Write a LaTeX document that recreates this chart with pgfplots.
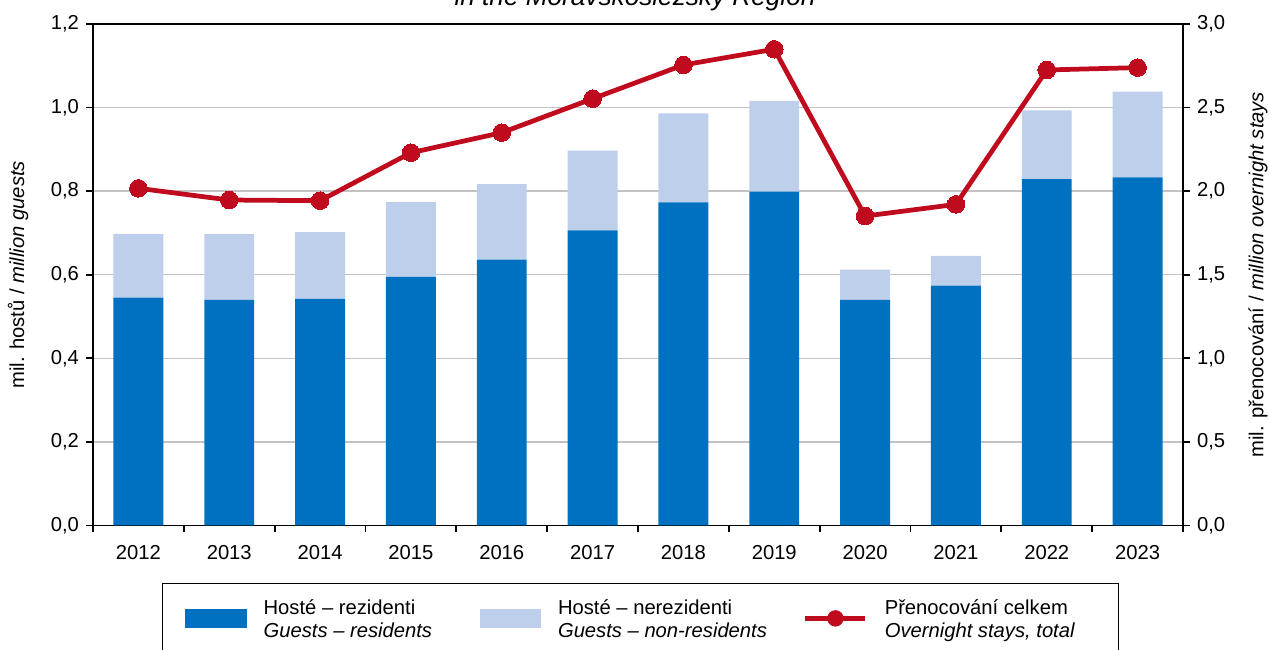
\documentclass[border=0pt]{standalone}
\usepackage{pgfplots}
\usepackage{pgfplotstable}
\pgfplotsset{compat=1.18}
\usepackage{fontspec}
\setmainfont{Liberation Sans}
\definecolor{resblue}{RGB}{0,112,192}
\definecolor{nonres}{RGB}{189,207,235}
\definecolor{linered}{RGB}{192,10,30}
\definecolor{gridgray}{RGB}{195,195,195}

\pgfplotstableread{
x year res nonres stays
0 2012 0.545 0.153 2.017
1 2013 0.540 0.157 1.947
2 2014 0.542 0.160 1.943
3 2015 0.595 0.179 2.230
4 2016 0.636 0.181 2.350
5 2017 0.706 0.191 2.553
6 2018 0.773 0.213 2.755
7 2019 0.799 0.217 2.849
8 2020 0.540 0.072 1.851
9 2021 0.574 0.071 1.921
10 2022 0.829 0.164 2.725
11 2023 0.833 0.205 2.739
}\data

\begin{document}
\fontsize{11.5pt}{13.1pt}\selectfont
\begin{tikzpicture}
\pgfplotsset{
  every axis/.append style={
    scale only axis,
    width=21.8cm, height=10.03cm,
    xmin=-0.5, xmax=11.5,
    tick align=outside,
    major tick length=0.14cm,
    minor tick length=0.14cm,
    axis line style={line width=1pt, black},
    every tick/.style={black, line width=1pt},
    /pgf/number format/assume math mode=true,
  }
}
\begin{axis}[
  ymin=0, ymax=1.2,
  ytick={0,0.2,...,1.2},
  tick pos=left,
  xtick={0,...,11},
  xticklabels={2012,2013,2014,2015,2016,2017,2018,2019,2020,2021,2022,2023},
  x tick style={draw=none},
  minor xtick={-0.5,0.5,...,11.5},
  minor x tick style={draw=black, line width=1pt},
  xticklabel style={yshift=-0.12cm},
  ymajorgrids,
  grid style={gridgray, line width=0.75pt},
  yticklabel style={/pgf/number format/.cd, fixed, fixed zerofill, precision=1, use comma},
  every axis y label/.style={at={(axis description cs:0,0.5)}, xshift=-1.5cm, rotate=90, anchor=center},
  ylabel={mil. hostů / \textit{million guests}},
  ybar stacked,
  bar width=0.55,
]
\addplot[fill=resblue, draw=none] table[x=x, y=res] {\data};
\addplot[fill=nonres, draw=none] table[x=x, y=nonres] {\data};
\end{axis}
\begin{axis}[
  ymin=0, ymax=3,
  ytick={0,0.5,...,3},
  axis y line*=right,
  axis x line=none,
  ytick pos=right,
  yticklabel style={/pgf/number format/.cd, fixed, fixed zerofill, precision=1, use comma},
  every axis y label/.style={at={(axis description cs:1,0.5)}, xshift=1.5cm, rotate=90, anchor=center},
  ylabel={mil. přenocování / \textit{million overnight stays}},
  legend columns=3,
  legend cell align=left,
  legend style={at={(axis description cs:0.5,-0.1147)}, anchor=north, xshift=0.05cm,
    draw=black, line width=0.8pt, inner xsep=0.46cm, inner ysep=0.3cm,
    nodes={inner sep=0pt},
    /tikz/every odd column/.append style={column sep=0.34cm}},
]
\addlegendimage{legend image code/.code={\fill[resblue] (0cm,-0.25cm) rectangle (1.2cm,0.09cm);}}
\addlegendentry{\makebox[4.32cm][l]{\begin{tabular}{@{}l@{}}Hosté – rezidenti\\\textit{Guests – residents}\end{tabular}}}
\addlegendimage{legend image code/.code={\fill[nonres] (0cm,-0.25cm) rectangle (1.2cm,0.09cm);}}
\addlegendentry{\makebox[4.90cm][l]{\begin{tabular}{@{}l@{}}Hosté – nerezidenti\\\textit{Guests – non-residents}\end{tabular}}}
\addlegendimage{legend image code/.code={\draw[linered, line width=2.7pt] (0cm,-0.08cm) -- (1.2cm,-0.08cm); \fill[linered] (0.6cm,-0.08cm) circle (0.15cm);}}
\addlegendentry{\makebox[4.22cm][l]{\begin{tabular}{@{}l@{}}Přenocování celkem\\\textit{Overnight stays, total}\end{tabular}}}
\addlegendimage{empty legend}\addlegendentry{\rule{0pt}{0.35cm}}
\addlegendimage{empty legend}\addlegendentry{\rule{0pt}{0.35cm}}
\addlegendimage{empty legend}\addlegendentry{\rule{0pt}{0.35cm}}
\addplot[linered, line width=2.7pt, mark=*, mark size=5pt, mark options={fill=linered, draw=linered, line width=0pt}, forget plot] table[x=x, y=stays] {\data};
\end{axis}
\node[anchor=base, font=\itshape\fontsize{14.9pt}{17pt}\selectfont] at (10.84cm,10.40cm) {in the Moravskoslezský Region};
\pgfresetboundingbox
\path[use as bounding box] (-1.86cm,-2.49cm) rectangle (23.52cm,10.51cm);
\end{tikzpicture}
\end{document}
